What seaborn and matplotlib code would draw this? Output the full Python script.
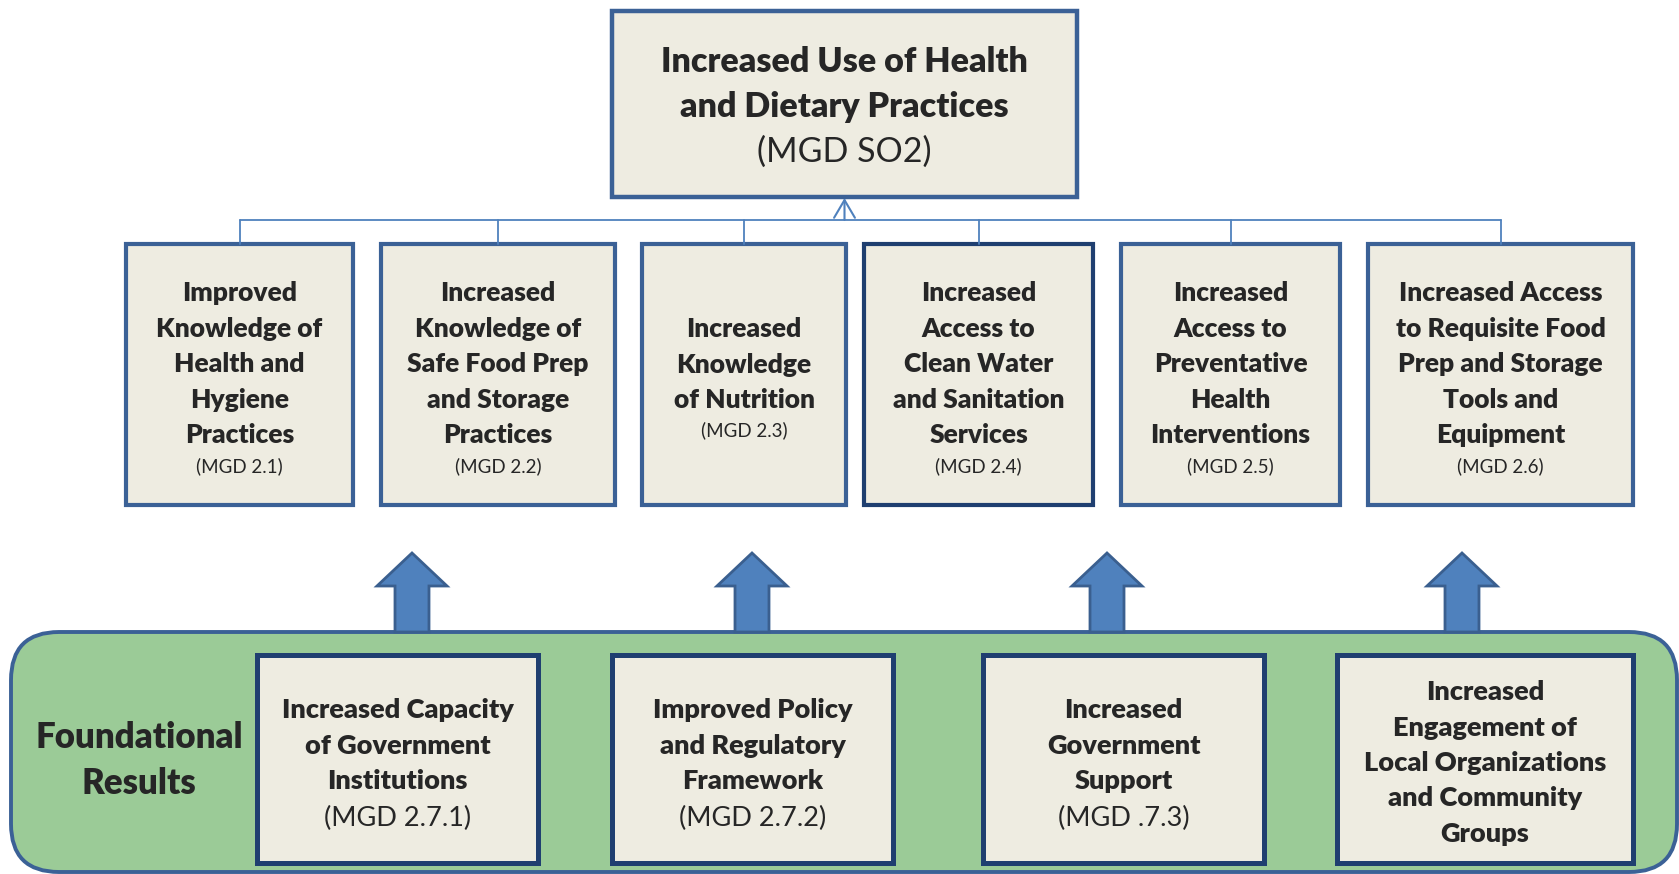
import matplotlib
matplotlib.use("Agg")
import matplotlib.pyplot as plt
import seaborn as sns
from matplotlib.patches import Rectangle, FancyBboxPatch

sns.set_theme(style="white")
plt.rcParams['font.family'] = ['Lato', 'DejaVu Sans']

# ---- texts ----
top_title = ["Increased Use of Health", "and Dietary Practices"]
top_code = "(MGD SO2)"

mid_labels = [
    ["Improved", "Knowledge of", "Health and", "Hygiene", "Practices"],
    ["Increased", "Knowledge of", "Safe Food Prep", "and Storage", "Practices"],
    ["Increased", "Knowledge", "of Nutrition"],
    ["Increased", "Access to", "Clean Water", "and Sanitation", "Services"],
    ["Increased", "Access to", "Preventative", "Health", "Interventions"],
    ["Increased Access", "to Requisite Food", "Prep and Storage", "Tools and", "Equipment"],
]
mid_codes = ["(MGD 2.1)", "(MGD 2.2)", "(MGD 2.3)", "(MGD 2.4)", "(MGD 2.5)", "(MGD 2.6)"]

found_title = ["Foundational", "Results"]
bot_labels = [
    ["Increased Capacity", "of Government", "Institutions"],
    ["Improved Policy", "and Regulatory", "Framework"],
    ["Increased", "Government", "Support"],
    ["Increased", "Engagement of", "Local Organizations", "and Community", "Groups"],
]
bot_codes = ["(MGD 2.7.1)", "(MGD 2.7.2)", "(MGD .7.3)", None]

# ---- layout (pixel space) ----
W, H = 1679, 874
fill = "#EEECE1"
edge = "#3B6196"
dark_edge = "#1F3F70"
line_c = "#4F81BD"
green = "#9BCB97"
bold = "heavy"

top_box = (612, 11, 465, 186)
mid_x = [(126, 353), (381, 615), (642, 846), (864, 1093), (1121, 1340), (1368, 1633)]
mid_y = (244, 505)
bot_x = [(257, 538), (612, 893), (983, 1264), (1337, 1633)]
bot_y = (655, 863)
arrow_cx = [412, 752, 1107, 1462]

fig = plt.figure(figsize=(W / 100, H / 100), dpi=100)
ax = fig.add_axes([0, 0, 1, 1])
ax.set_xlim(0, W)
ax.set_ylim(H, 0)
ax.axis("off")

# connector lines
bus_y = 220
ax.plot([sum(mid_x[0]) / 2, sum(mid_x[-1]) / 2], [bus_y, bus_y], color=line_c, lw=1.3)
for x0, x1 in mid_x:
    cx = (x0 + x1) / 2
    ax.plot([cx, cx], [bus_y, mid_y[0]], color=line_c, lw=1.3)
top_cx = top_box[0] + top_box[2] / 2
ax.annotate("", xy=(top_cx, top_box[1] + top_box[3] + 1), xytext=(top_cx, bus_y),
            arrowprops=dict(arrowstyle="->,head_length=0.85,head_width=0.5", color=line_c, lw=1.5,
                            shrinkA=0, shrinkB=0, mutation_scale=15))

# top box
ax.add_patch(Rectangle(top_box[:2], top_box[2], top_box[3], fc=fill, ec=edge, lw=3.2))
for i, t in enumerate(top_title):
    ax.text(top_cx, 59 + 45 * i, t, ha="center", va="center_baseline", fontsize=24.5, fontweight=bold)
ax.text(top_cx, 149, top_code, ha="center", va="center_baseline", fontsize=24.5)

# middle boxes
for k, ((x0, x1), lines, code) in enumerate(zip(mid_x, mid_labels, mid_codes)):
    ec = dark_edge if k == 3 else edge
    ax.add_patch(Rectangle((x0, mid_y[0]), x1 - x0, mid_y[1] - mid_y[0], fc=fill, ec=ec, lw=3.0))
    cx = (x0 + x1) / 2
    start = 291 if len(lines) == 5 else 327
    for i, t in enumerate(lines):
        ax.text(cx, start + 35.6 * i, t, ha="center", va="center_baseline", fontsize=19, fontweight=bold)
    ax.text(cx, start + 35.6 * (len(lines) - 1) + 31, code, ha="center", va="center_baseline", fontsize=13.5)

# green foundation panel
ax.add_patch(FancyBboxPatch((11, 632), W - 13, 240, boxstyle="round,pad=0,rounding_size=48",
                            fc=green, ec=edge, lw=2.8))

# block arrows
for cx in arrow_cx:
    xs = [cx, cx + 35, cx + 17, cx + 17, cx - 17, cx - 17, cx - 35]
    ys = [553, 586, 586, 632, 632, 586, 586]
    ax.fill(xs, ys, fc=line_c, ec="#3A5F8F", lw=2.0, zorder=1)

ax.text(139, 735, found_title[0], ha="center", va="center_baseline", fontsize=25, fontweight=bold)
ax.text(139, 780, found_title[1], ha="center", va="center_baseline", fontsize=25, fontweight=bold)

# bottom boxes
for (x0, x1), lines, code in zip(bot_x, bot_labels, bot_codes):
    ax.add_patch(Rectangle((x0, bot_y[0]), x1 - x0, bot_y[1] - bot_y[0], fc=fill, ec=dark_edge, lw=3.6))
    cx = (x0 + x1) / 2
    start = 708 if code else 690
    for i, t in enumerate(lines):
        ax.text(cx, start + 35.5 * i, t, ha="center", va="center_baseline", fontsize=19.5, fontweight=bold)
    if code:
        ax.text(cx, start + 35.5 * len(lines) + 1.5, code, ha="center", va="center_baseline", fontsize=19.5)

fig.savefig("out.png", dpi=100, facecolor="white")
